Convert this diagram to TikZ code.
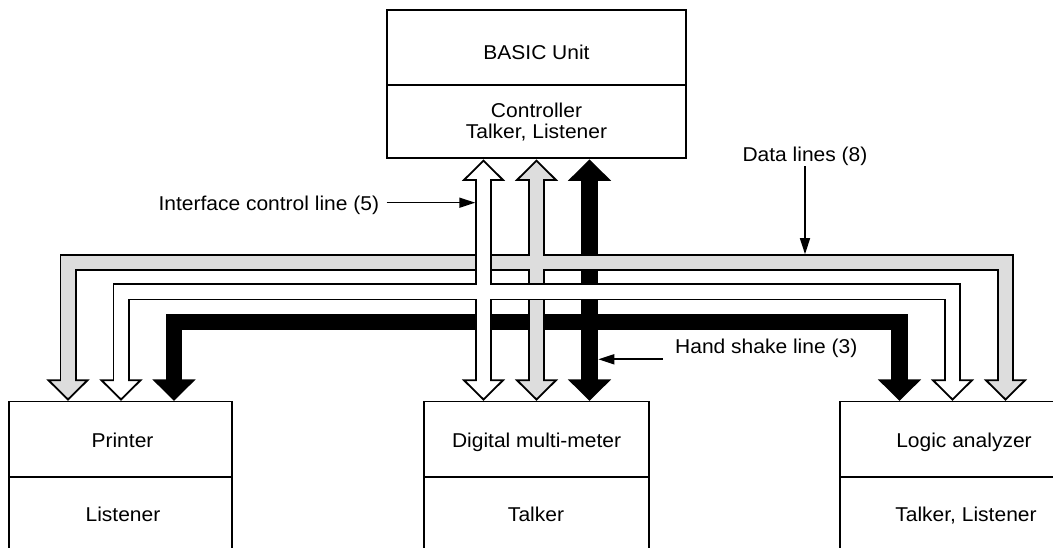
\documentclass[tikz,border=0pt]{standalone}
\usepackage{fontspec}
\setmainfont[FakeStretch=1.05]{Liberation Sans}
\usetikzlibrary{arrows.meta}
\definecolor{busgray}{RGB}{221,221,221}
\newcommand\HeadDn[2]{\filldraw[shift={(#1,0)},fill=#2,draw=black,line width=1.8bp,line join=miter] (-19.5,380.3) -- (0,399.5) -- (19.5,380.3) -- cycle;}
\newcommand\HeadUp[2]{\filldraw[shift={(#1,0)},fill=#2,draw=black,line width=1.8bp,line join=miter] (-19.5,180) -- (0,160.6) -- (19.5,180) -- cycle;}
\begin{document}
\begin{tikzpicture}[x=1bp,y=-1bp,
  boxpart/.style={draw,line width=1.8bp,inner sep=0pt,outer sep=0pt},
  txt/.style={font=\fontsize{20bp}{24bp}\selectfont,inner sep=0pt,anchor=base},
  lab/.style={line width=1.6bp,-{Triangle[length=16bp,width=10bp]}},
  busout/.style={line width=17bp,draw=black,line join=miter},
  busin/.style={line width=13.4bp,draw=#1,line join=miter},
  solidbus/.style={line width=16.7bp,draw=black,line join=miter}]
\useasboundingbox (0,0) rectangle (1053,548);
\clip (0,0) rectangle (1053,548);

% boxes
\node[boxpart,minimum width=299bp,minimum height=75bp] (basicU) at (536.5,47.5) {};
\node[boxpart,minimum width=299bp,minimum height=73bp] (basicL) at (536.5,121.5) {};
\node[boxpart,minimum width=223.3bp,minimum height=75.5bp] (prnU) at (120.65,439.25) {};
\node[boxpart,minimum width=223.3bp,minimum height=73.4bp] (prnL) at (120.65,513.7) {};
\node[boxpart,minimum width=224.7bp,minimum height=75.5bp] (dmmU) at (536.65,439.25) {};
\node[boxpart,minimum width=224.7bp,minimum height=73.4bp] (dmmL) at (536.65,513.7) {};
\node[boxpart,minimum width=250bp,minimum height=75.5bp] (laU) at (965,439.25) {};
\node[boxpart,minimum width=250bp,minimum height=73.4bp] (laL) at (965,513.7) {};

% texts
\node[txt] (tBasic) at (536.5,60) {BASIC Unit};
\node[txt] (tCtl1) at (536.5,117.3) {Controller};
\node[txt] (tCtl2) at (536.5,138.3) {Talker, Listener};
\node[txt] (tPrn) at (122.5,447.3) {Printer};
\node[txt] (tPrnL) at (123,521) {Listener};
\node[txt] (tDmm) at (536.6,447.3) {Digital multi-meter};
\node[txt] (tDmmL) at (536,521) {Talker};
\node[txt] (tLa) at (964,447.3) {Logic analyzer};
\node[txt] (tLaL) at (966,521) {Talker, Listener};

% black hand shake network
\draw[solidbus] (174,380.3) -- (174,322) -- (899.5,322) -- (899.5,380.3);
\draw[solidbus] (589.5,180) -- (589.5,380.3);
\HeadDn{174}{black}\HeadDn{899.5}{black}\HeadDn{589.5}{black}\HeadUp{589.5}{black}

% gray data network
\draw[busout] (68,380.3) -- (68,262.5) -- (1005.5,262.5) -- (1005.5,380.3);
\draw[busout] (536.5,180) -- (536.5,380.3);
\HeadDn{68}{busgray}\HeadDn{1005.5}{busgray}\HeadDn{536.5}{busgray}\HeadUp{536.5}{busgray}
\draw[busin=busgray] (68,381.6) -- (68,262.5) -- (1005.5,262.5) -- (1005.5,381.6);
\draw[busin=busgray] (536.5,178.7) -- (536.5,381.6);

% white interface control network
\draw[busout] (121,380.3) -- (121,292) -- (952.5,292) -- (952.5,380.3);
\draw[busout] (483.5,180) -- (483.5,380.3);
\HeadDn{121}{white}\HeadDn{952.5}{white}\HeadDn{483.5}{white}\HeadUp{483.5}{white}
\draw[busin=white] (121,381.6) -- (121,292) -- (952.5,292) -- (952.5,381.6);
\draw[busin=white] (483.5,178.7) -- (483.5,381.6);

% labels
\node[txt,anchor=base west] (lIC) at (158.3,210.7) {Interface control line (5)};
\node[txt,anchor=base west] (lHS) at (675,353.3) {Hand shake line (3)};
\node[txt] (lData) at (805,162) {Data lines (8)};
\coordinate (icS) at (386.7,202.7);
\coordinate (icE) at (475.3,202.7);
\coordinate (hsS) at (662.7,359.3);
\coordinate (hsE) at (598.3,359.3);
\coordinate (dS) at (805,166.5);
\coordinate (dE) at (805,254.2);
\draw[lab] (icS) -- (icE);
\draw[lab] (hsS) -- (hsE);
\draw[lab] (dS) -- (dE);
\end{tikzpicture}
\end{document}
